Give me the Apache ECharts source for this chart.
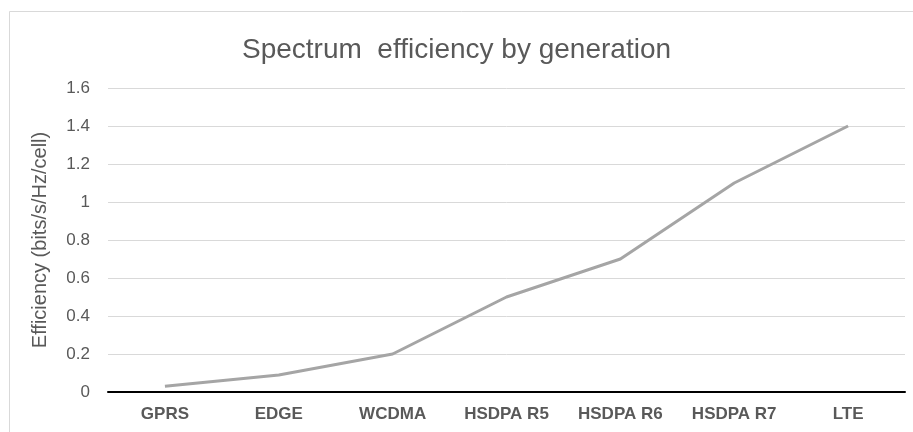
<!DOCTYPE html>
<html>
<head>
<meta charset="utf-8">
<script src="https://cdn.jsdelivr.net/npm/echarts@6/dist/echarts.min.js"></script>
<style>
  html, body { margin: 0; padding: 0; background: #fff; }
  #chart { width: 913px; height: 432px; }
</style>
</head>
<body>
<div id="chart"></div>
<script>
// Technology generations along the x axis
const generations = ['GPRS', 'EDGE', 'WCDMA', 'HSDPA R5', 'HSDPA R6', 'HSDPA R7', 'LTE'];
// Spectrum efficiency, bits/s/Hz/cell
const efficiency = [0.03, 0.09, 0.2, 0.5, 0.7, 1.1, 1.4];

const chart = echarts.init(document.getElementById('chart'), null, { renderer: 'canvas' });
const textColor = '#595959';
const font = 'Arial, "Liberation Sans", sans-serif';

chart.setOption({
  animation: false,
  backgroundColor: '#ffffff',
  graphic: [{
    type: 'rect',
    shape: { x: 9.5, y: 11.5, width: 920, height: 440 },
    style: { fill: 'none', stroke: '#d9d9d9', lineWidth: 1 },
    silent: true
  }],
  title: {
    text: 'Spectrum  efficiency by generation',
    left: 'center',
    top: 31,
    textStyle: { color: textColor, fontSize: 28, fontWeight: 'normal', fontFamily: font }
  },
  grid: { left: 108, right: 8, top: 88, bottom: 40, containLabel: false },
  xAxis: {
    type: 'category',
    data: generations,
    boundaryGap: true,
    axisLine: { lineStyle: { color: '#000000', width: 2 } },
    axisTick: { show: false },
    axisLabel: {
      interval: 0, hideOverlap: false,
      color: textColor, fontSize: 17, fontWeight: 'bold', fontFamily: font, margin: 14
    }
  },
  yAxis: {
    type: 'value',
    min: 0,
    max: 1.6,
    interval: 0.2,
    name: 'Efficiency (bits/s/Hz/cell)',
    nameLocation: 'middle',
    nameGap: 58,
    nameTextStyle: { color: textColor, fontSize: 20, fontFamily: font },
    axisLine: { show: false },
    axisTick: { show: false },
    splitLine: { lineStyle: { color: '#d9d9d9', width: 1 } },
    axisLabel: {
      color: textColor, fontSize: 17, fontFamily: font, margin: 18,
      formatter: v => String(Math.round(v * 10) / 10)
    }
  },
  series: [{
    type: 'line',
    data: efficiency,
    symbol: 'none',
    lineStyle: { color: '#a5a5a5', width: 3 }
  }]
});
</script>
</body>
</html>
